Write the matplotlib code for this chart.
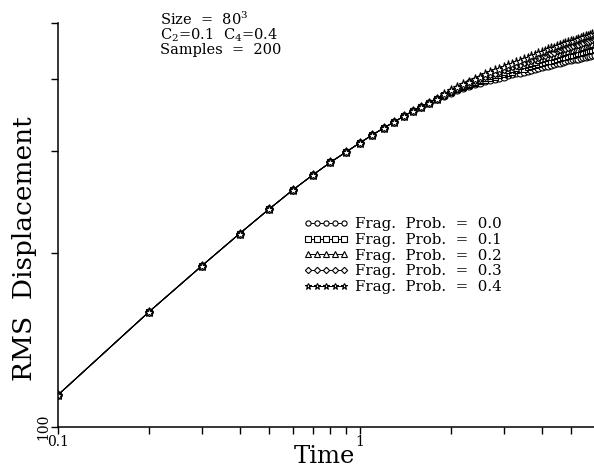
import numpy as np
import matplotlib
matplotlib.use("Agg")
import matplotlib.pyplot as plt
from matplotlib.ticker import NullFormatter

plt.rcParams['font.family'] = ['DejaVu Serif']
plt.rcParams['mathtext.fontset'] = 'dejavuserif'

# time steps 0.1 .. 6.0
t = np.round(np.arange(1, 61) * 0.1, 1)

# values common to all series (t = 0.1 .. 1.8)
early = [113.5, 158, 190, 216, 238, 257, 273, 287, 299, 310,
         320, 329, 337, 345, 352, 358, 364, 370]

# t = 1.9 .. 6.0, where the curves fan out
late_00 = [374.5, 379, 382.5, 386, 389, 391.5, 394, 396.5, 398, 400,
           402, 404, 406, 407.5, 409, 410.5, 412, 413.5, 415, 416.5,
           418.5, 420, 421, 422, 423, 424.5, 426, 427, 428.5, 429.5,
           431, 431.5, 432.5, 433.5, 434, 435, 436, 437, 438, 439,
           440, 441]
late_01 = [375, 380, 384, 387.5, 390.5, 394, 396.5, 399, 401.5, 403.5,
           406, 408, 410, 412, 414, 415.5, 417, 419, 421, 422.5,
           425, 426.5, 428, 429, 430.5, 432, 433.5, 435, 436, 437.5,
           439, 440, 441, 442, 443, 444, 445, 446.5, 447.5, 448.5,
           449.5, 450.5]
late_02 = [375.5, 381, 385, 389, 392.5, 396, 399, 402, 404.5, 407,
           409.5, 412, 414.5, 416.5, 418.5, 420.5, 422.5, 424.5, 426.5, 428.5,
           431, 433, 434.5, 436, 437.5, 439, 441, 442.5, 444, 445.5,
           447, 448, 449.5, 450.5, 451.5, 453, 454, 455.5, 456.5, 457.5,
           459, 460]
late_03 = [376, 382, 386, 390.5, 394.5, 398, 401.5, 405, 407.5, 410.5,
           413, 416, 419, 421, 423, 425.5, 428, 430, 432, 434.5,
           437, 439.5, 441, 443, 444.5, 446, 448.5, 450, 452, 453.5,
           455, 456, 458, 459, 460, 462, 463, 464.5, 466, 467,
           468.5, 469.5]
late_04 = [376.5, 383, 387.5, 392, 396, 400.5, 404, 407.5, 411, 414,
           417, 420, 423, 425.5, 428, 430.5, 433, 435.5, 438, 440.5,
           443.5, 446, 448, 450, 452, 453.5, 456, 458, 459.5, 461.5,
           463, 464.5, 466, 467.5, 469, 471, 472, 474, 475, 476,
           478, 479]

labels = ['Frag.  Prob.  =  0.0', 'Frag.  Prob.  =  0.1', 'Frag.  Prob.  =  0.2',
          'Frag.  Prob.  =  0.3', 'Frag.  Prob.  =  0.4']
markers = ['o', 's', '^', 'D', '*']
lates = [late_00, late_01, late_02, late_03, late_04]

fig = plt.figure(figsize=(5.94, 4.68), dpi=100)
ax = fig.add_axes([57.7/594, 41/468, 537/594, 404/468])

for lab, m, late in zip(labels, markers, lates):
    y = np.array(early + late)
    ms = 6.5 if m == '*' else 5.0
    if m == 'D':
        ms = 4.3
    ax.plot(t, y, color='black', lw=0.7, marker=m, ms=ms, mfc='white',
            mec='black', mew=0.8, label=lab)

ax.set_xscale('log')
ax.set_yscale('log')
ax.set_xlim(0.1, 6.0)
ax.set_ylim(100, 500)

ax.spines['top'].set_visible(False)
ax.spines['right'].set_visible(False)
for s in ['left', 'bottom']:
    ax.spines[s].set_linewidth(1.1)

ax.set_xticks([0.1, 1])
ax.set_xticklabels(['0.1', '1'])
ax.set_xticks([0.2, 0.3, 0.4, 0.5, 0.6, 0.7, 0.8, 0.9, 2, 3, 4, 5, 6], minor=True)
ax.xaxis.set_minor_formatter(NullFormatter())
ax.set_yticks([100])
ax.set_yticklabels(['100'], rotation=90, va='center')
ax.set_yticks([200, 300, 400, 500], minor=True)
ax.yaxis.set_minor_formatter(NullFormatter())
ax.tick_params(which='both', direction='out', length=5, width=1.0, labelsize=10, pad=0.5)

fig.text(324/594, 1 - 463/468, 'Time', fontsize=17.5, ha='center', va='baseline')
fig.text(25/594, 1 - 249/468, 'RMS  Displacement', fontsize=19, rotation=90,
         ha='center', va='center')

fig.text(160/594, 1 - 19/468, 'Size  =  80$^3$', fontsize=10.5, va='center')
fig.text(160/594, 1 - 35.5/468, 'C$_2$=0.1  C$_4$=0.4', fontsize=10.5, va='center')
fig.text(160/594, 1 - 50/468, 'Samples  =  200', fontsize=10.5, va='center')

ax.legend(loc='upper left', bbox_to_anchor=(303/594, 1 - 217/468),
          bbox_transform=fig.transFigure, frameon=False, numpoints=5,
          fontsize=10.8, handlelength=3.0, handletextpad=0.45,
          labelspacing=0.12, borderpad=0, borderaxespad=0, markerscale=0.75)

fig.savefig('out.png', dpi=100)
